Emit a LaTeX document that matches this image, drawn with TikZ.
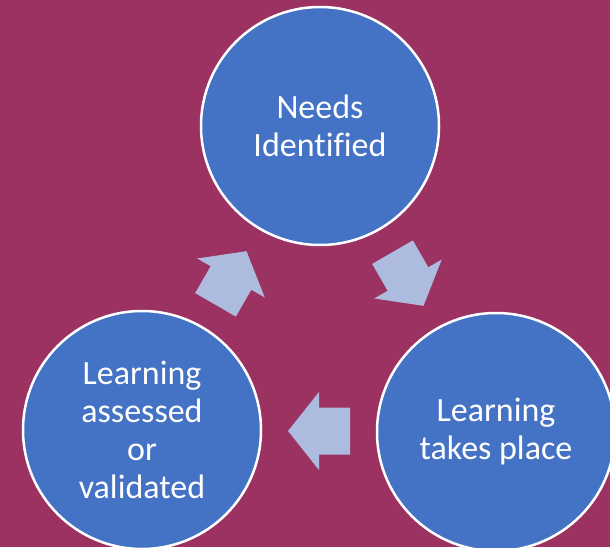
\documentclass[tikz,border=0pt]{standalone}
\usepackage{fontspec}
\setmainfont{Carlito}[Ligatures=NoCommon]
\usetikzlibrary{calc}
\definecolor{berry}{RGB}{155,50,97}
\definecolor{stageblue}{RGB}{68,114,196}
\definecolor{arrowblue}{RGB}{173,187,222}
\begin{document}
\begin{tikzpicture}[x=1pt,y=1pt,
  stage/.style={circle, minimum size=238pt, inner sep=0pt, fill=stageblue, draw=white, line width=2.5pt, text=white, align=center, font=\fontsize{34}{38}\selectfont},
  cyclearrow/.pic={\fill[arrowblue] (-31,-23.5) -- (0,-23.5) -- (0,-39) -- (31,0) -- (0,39) -- (0,23.5) -- (-31,23.5) -- cycle;}]
\clip (0,0) rectangle (610,547);
\fill[berry] (0,0) rectangle (610,547);
\node[stage] (needs) at (320,421){Needs\\Identified};
\node[stage] (takes) at (496,115){Learning\\takes place};
\node[stage] (assessed) at (142,117){Learning\\assessed\\or\\validated};
\pic[rotate=-60] at ($(needs)!0.5!(takes)$) {cyclearrow};
\pic[rotate=180] at ($(takes)!0.5!(assessed)$) {cyclearrow};
\pic[rotate=60] at ($(assessed)!0.5!(needs)$) {cyclearrow};
\end{tikzpicture}
\end{document}
